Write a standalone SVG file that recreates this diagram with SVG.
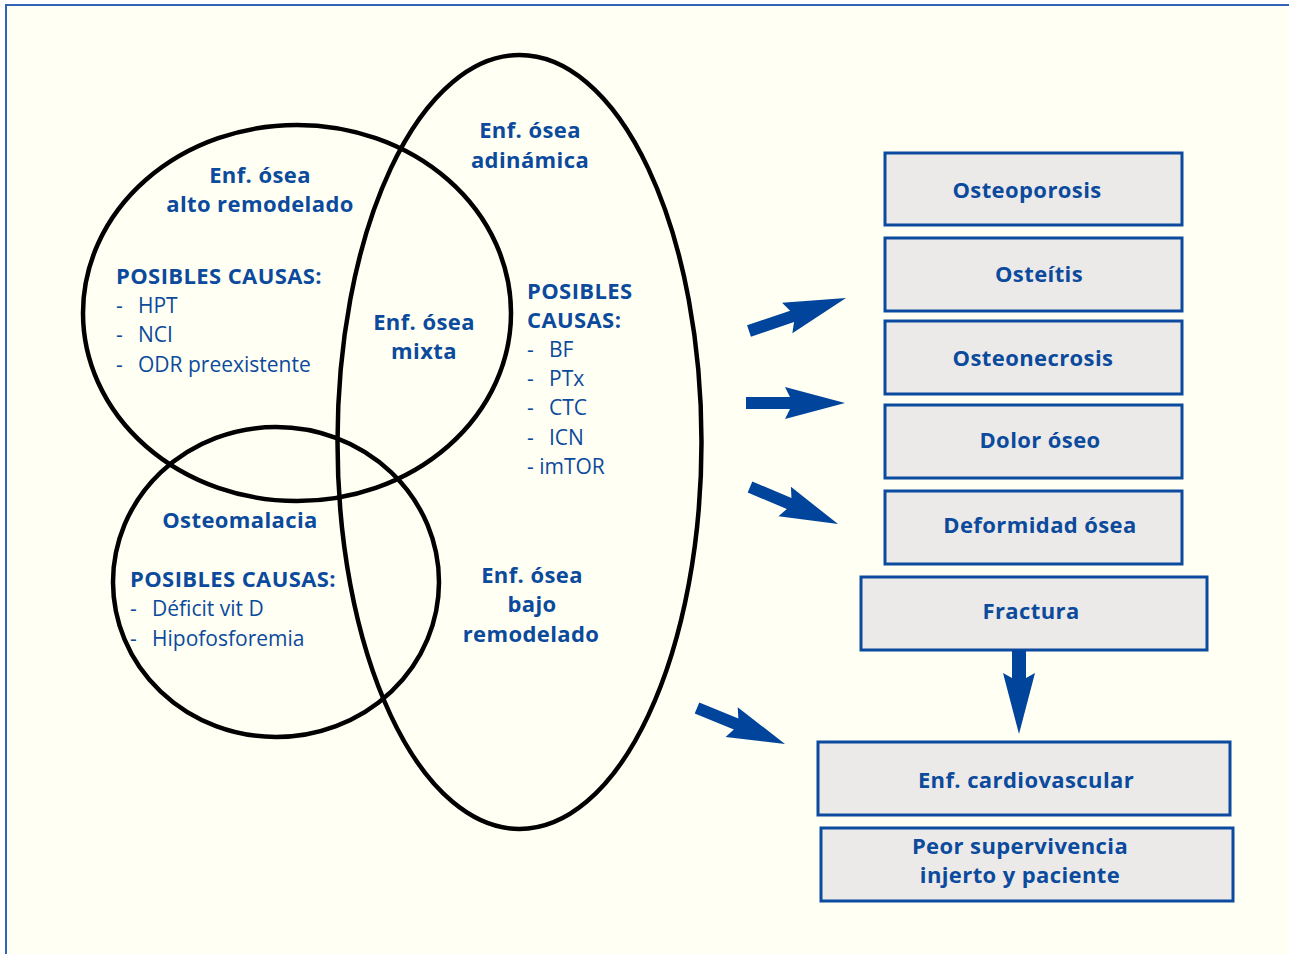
<svg xmlns="http://www.w3.org/2000/svg" width="1289" height="954" viewBox="0 0 1289 954">
<style>
.bg{fill:#FFFFF3}
.frame{fill:none;stroke:#2F64B6;stroke-width:2}
.ring{fill:none;stroke:#000;stroke-width:4.5}
.box{fill:#EBEAE8;stroke:#0B4A9E;stroke-width:3}
.t{font-family:"Open Sans","Noto Sans",sans-serif;font-size:21px;fill:#0B4A9C}
.b{font-weight:bold;font-size:22px;letter-spacing:0.4px}
.m{text-anchor:middle}
.arr{fill:#00449B}
</style>
<defs>
<polygon id="ar" points="0,-6 44,-6 39,-16 99,0 39,16 44,6 0,6"/>
</defs>
<rect x="0" y="0" width="1289" height="954" fill="#FFFFFF"/>
<rect x="6" y="5" width="1290" height="960" class="bg"/>
<path d="M6,954 V5 H1289" class="frame"/>

<g id="venn">
<ellipse id="alto" cx="297" cy="313" rx="214" ry="188" class="ring"/>
<ellipse id="bajo" cx="519.5" cy="442" rx="182" ry="387" class="ring"/>
<ellipse id="osteomalacia" cx="276" cy="582" rx="163" ry="155" class="ring"/>
</g>

<g id="labels-alto">
<text class="t b m" x="260" y="183">Enf. ósea</text>
<text class="t b m" x="260" y="212">alto remodelado</text>
<text class="t b" x="116" y="284">POSIBLES CAUSAS:</text>
<text class="t" x="116" y="313">-</text><text class="t" x="138" y="313">HPT</text>
<text class="t" x="116" y="342">-</text><text class="t" x="138" y="342">NCI</text>
<text class="t" x="116" y="372">-</text><text class="t" x="138" y="372">ODR preexistente</text>
</g>
<g id="labels-mixta">
<text class="t b m" x="424" y="330">Enf. ósea</text>
<text class="t b m" x="424" y="359">mixta</text>
</g>
<g id="labels-adinamica">
<text class="t b m" x="530" y="138">Enf. ósea</text>
<text class="t b m" x="530" y="168">adinámica</text>
<text class="t b" x="527" y="299">POSIBLES</text>
<text class="t b" x="527" y="328">CAUSAS:</text>
<text class="t" x="527" y="357">-</text><text class="t" x="549" y="357">BF</text>
<text class="t" x="527" y="386">-</text><text class="t" x="549" y="386">PTx</text>
<text class="t" x="527" y="415">-</text><text class="t" x="549" y="415">CTC</text>
<text class="t" x="527" y="445">-</text><text class="t" x="549" y="445">ICN</text>
<text class="t" x="527" y="474">- imTOR</text>
</g>
<g id="labels-osteomalacia">
<text class="t b m" x="240" y="528">Osteomalacia</text>
<text class="t b" x="130" y="587">POSIBLES CAUSAS:</text>
<text class="t" x="130" y="616">-</text><text class="t" x="152" y="616">Déficit vit D</text>
<text class="t" x="130" y="646">-</text><text class="t" x="152" y="646">Hipofosforemia</text>
</g>
<g id="labels-bajo">
<text class="t b m" x="532" y="583">Enf. ósea</text>
<text class="t b m" x="532" y="612">bajo</text>
<text class="t b m" x="531" y="642">remodelado</text>
</g>

<g id="osteoporosis"><rect x="885" y="153" width="297" height="72" class="box"/><text class="t b m" x="1027" y="198">Osteoporosis</text></g>
<g id="osteitis"><rect x="885" y="238" width="297" height="73" class="box"/><text class="t b m" x="1039" y="282">Osteítis</text></g>
<g id="osteonecrosis"><rect x="885" y="321" width="297" height="73" class="box"/><text class="t b m" x="1033" y="366">Osteonecrosis</text></g>
<g id="dolor"><rect x="885" y="405" width="297" height="73" class="box"/><text class="t b m" x="1040" y="448">Dolor óseo</text></g>
<g id="deformidad"><rect x="885" y="491" width="297" height="73" class="box"/><text class="t b m" x="1040" y="533">Deformidad ósea</text></g>
<g id="fractura"><rect x="861" y="577" width="346" height="73" class="box"/><text class="t b m" x="1031" y="619">Fractura</text></g>
<g id="cardio"><rect x="818" y="742" width="412" height="73" class="box"/><text class="t b m" x="1026" y="788">Enf. cardiovascular</text></g>
<g id="supervivencia"><rect x="821" y="828" width="412" height="73" class="box"/><text class="t b m" x="1020" y="854">Peor supervivencia</text><text class="t b m" x="1020" y="883">injerto y paciente</text></g>

<g id="connectors" class="arr">
<use href="#ar" transform="translate(749,331) rotate(-18.8) scale(1.035,1)"/>
<use href="#ar" transform="translate(746,403) scale(1.0,1)"/>
<use href="#ar" transform="translate(750,487) rotate(22.8) scale(0.965,1)"/>
<use href="#ar" transform="translate(697,708) rotate(22.2) scale(0.96,1)"/>
<polygon points="1012,650 1026,650 1026,678 1035,673 1019,734 1003,673 1012,678"/>
</g>
</svg>
